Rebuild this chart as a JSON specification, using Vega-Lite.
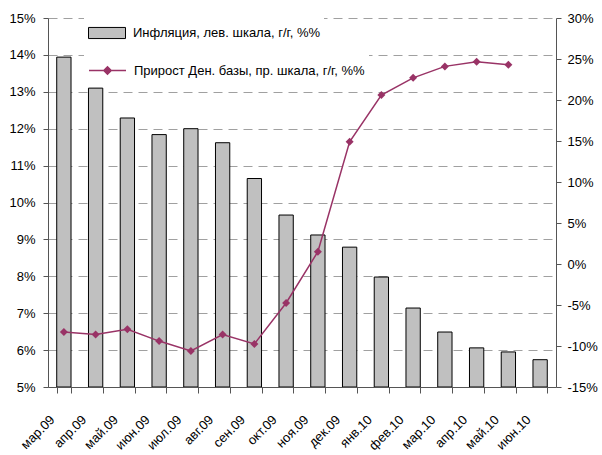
{
  "$schema": "https://vega.github.io/schema/vega-lite/v6.json",
  "width": 508,
  "height": 369,
  "autosize": {"type": "none"},
  "padding": {"left": 48, "top": 18, "right": 46, "bottom": 68},
  "background": "white",
  "config": {
    "view": {"stroke": null},
    "font": "Liberation Sans",
    "axis": {"labelFont": "Liberation Sans", "labelFontSize": 13, "labelColor": "black", "domainColor": "#555555", "tickColor": "#555555", "tickSize": 5, "title": null},
    "legend": {"labelFont": "Liberation Sans", "labelFontSize": 13, "labelColor": "black", "title": null, "labelLimit": 500}
  },
  "data": {
    "values": [
      {"month": "мар.09", "infl": 13.94, "mb": -8.3},
      {"month": "апр.09", "infl": 13.1, "mb": -8.6},
      {"month": "май.09", "infl": 12.29, "mb": -7.95},
      {"month": "июн.09", "infl": 11.84, "mb": -9.4},
      {"month": "июл.09", "infl": 12.0, "mb": -10.6},
      {"month": "авг.09", "infl": 11.62, "mb": -8.6},
      {"month": "сен.09", "infl": 10.65, "mb": -9.75},
      {"month": "окт.09", "infl": 9.66, "mb": -4.75},
      {"month": "ноя.09", "infl": 9.12, "mb": 1.5},
      {"month": "дек.09", "infl": 8.79, "mb": 14.9},
      {"month": "янв.10", "infl": 7.98, "mb": 20.6},
      {"month": "фев.10", "infl": 7.14, "mb": 22.7},
      {"month": "мар.10", "infl": 6.49, "mb": 24.1},
      {"month": "апр.10", "infl": 6.06, "mb": 24.65},
      {"month": "май.10", "infl": 5.95, "mb": 24.3},
      {"month": "июн.10", "infl": 5.74, "mb": null}
    ]
  },
  "encoding": {
    "x": {
      "field": "month",
      "type": "nominal",
      "sort": null,
      "scale": {"paddingInner": 0.55, "paddingOuter": 0.275},
      "axis": {"tickBand": "extent", "tickExtra": true, "domain": true, "ticks": true, "domainWidth": 1, "tickWidth": 1, "tickSize": 6, "zindex": 2, "labelAngle": -45, "labelAlign": "right", "labelBaseline": "top", "labelPadding": 20, "labelOffset": -16}
    }
  },
  "layer": [
    {
      "mark": {"type": "bar", "stroke": "black", "strokeWidth": 1},
      "encoding": {
        "y": {
          "field": "infl",
          "type": "quantitative",
          "scale": {"domain": [5, 15], "nice": false, "zero": false},
          "axis": {"values": [5, 6, 7, 8, 9, 10, 11, 12, 13, 14, 15], "labelExpr": "datum.value + '%'", "grid": true, "gridDash": [9, 6], "gridColor": "#a0a0a0", "labelPadding": 8}
        },
        "y2": {"datum": 5},
        "fill": {
          "datum": "Инфляция, лев. шкала, г/г, %%",
          "scale": {"range": ["#c0c0c0"]},
          "legend": {"orient": "none", "legendX": 36, "legendY": -8, "padding": 4, "fillColor": "white", "symbolType": "M-1,-0.3H1V0.3H-1Z", "symbolSize": 1369, "symbolStrokeColor": "black", "symbolStrokeWidth": 1, "labelOffset": 7}
        }
      }
    },
    {
      "layer": [
        {
          "mark": {"type": "line", "strokeWidth": 1.5},
          "encoding": {
            "y": {
              "field": "mb",
              "type": "quantitative",
              "scale": {"domain": [-15, 30], "nice": false, "zero": false},
              "axis": {"orient": "right", "values": [-15, -10, -5, 0, 5, 10, 15, 20, 25, 30], "labelExpr": "datum.value + '%'", "grid": false, "labelPadding": 6}
            },
            "stroke": {
              "datum": "Прирост Ден. базы, пр. шкала, г/г, %%",
              "scale": {"range": ["#993366"]},
              "legend": {"orient": "none", "legendX": 36, "legendY": 29, "padding": 4, "fillColor": "white", "symbolType": "M-1,0H1M-0.2,0L0,-0.2L0.2,0L0,0.2Z", "symbolSize": 1369, "symbolFillColor": "#993366", "symbolStrokeWidth": 1.5, "labelOffset": 7}
            }
          }
        },
        {
          "mark": {"type": "point", "shape": "diamond", "filled": true, "size": 64, "color": "#993366", "opacity": 1},
          "encoding": {
            "y": {"field": "mb", "type": "quantitative"}
          }
        }
      ]
    }
  ],
  "resolve": {"scale": {"y": "independent", "fill": "independent", "stroke": "independent"}}
}
